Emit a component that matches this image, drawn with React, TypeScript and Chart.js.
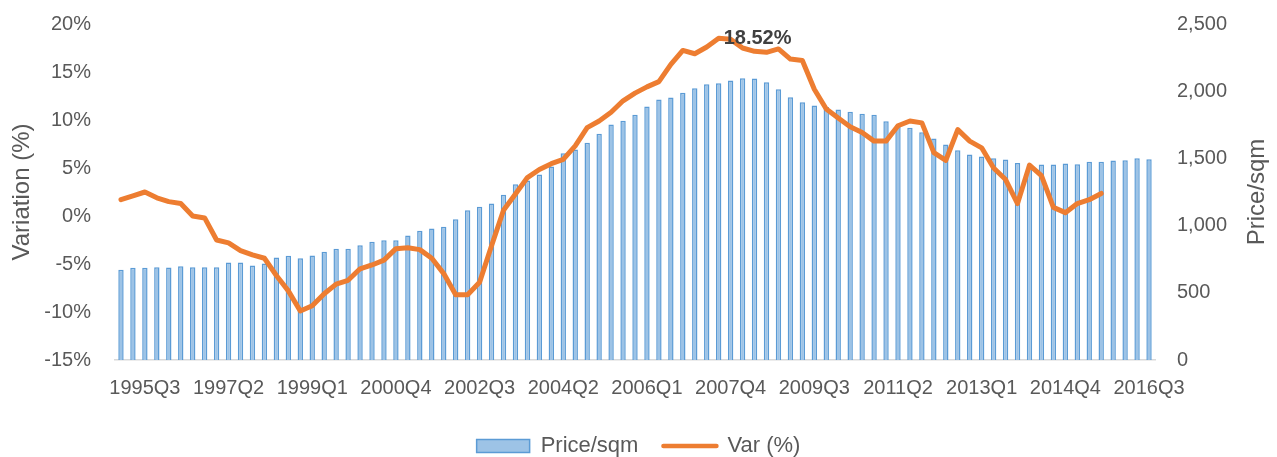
import React, { useEffect, useRef } from 'react';
import { Chart, registerables } from 'chart.js';

Chart.register(...registerables);

const CATEGORIES = [
  '1995Q1', '1995Q2', '1995Q3', '1995Q4', '1996Q1', '1996Q2', '1996Q3', '1996Q4',
  '1997Q1', '1997Q2', '1997Q3', '1997Q4', '1998Q1', '1998Q2', '1998Q3', '1998Q4',
  '1999Q1', '1999Q2', '1999Q3', '1999Q4', '2000Q1', '2000Q2', '2000Q3', '2000Q4',
  '2001Q1', '2001Q2', '2001Q3', '2001Q4', '2002Q1', '2002Q2', '2002Q3', '2002Q4',
  '2003Q1', '2003Q2', '2003Q3', '2003Q4', '2004Q1', '2004Q2', '2004Q3', '2004Q4',
  '2005Q1', '2005Q2', '2005Q3', '2005Q4', '2006Q1', '2006Q2', '2006Q3', '2006Q4',
  '2007Q1', '2007Q2', '2007Q3', '2007Q4', '2008Q1', '2008Q2', '2008Q3', '2008Q4',
  '2009Q1', '2009Q2', '2009Q3', '2009Q4', '2010Q1', '2010Q2', '2010Q3', '2010Q4',
  '2011Q1', '2011Q2', '2011Q3', '2011Q4', '2012Q1', '2012Q2', '2012Q3', '2012Q4',
  '2013Q1', '2013Q2', '2013Q3', '2013Q4', '2014Q1', '2014Q2', '2014Q3', '2014Q4',
  '2015Q1', '2015Q2', '2015Q3', '2015Q4', '2016Q1', '2016Q2', '2016Q3',
];

const PRICE_SQM = [
  671, 686, 686, 691, 689, 698, 691, 691, 691, 725,
  725, 703, 718, 763, 775, 757, 777, 805, 827, 827,
  854, 879, 891, 891, 926, 961, 978, 991, 1048, 1115,
  1140, 1164, 1229, 1308, 1336, 1380, 1440, 1539, 1566, 1616,
  1683, 1752, 1780, 1824, 1886, 1938, 1953, 1988, 2022, 2052,
  2060, 2080, 2097, 2094, 2067, 2015, 1955, 1918, 1894, 1883,
  1864, 1848, 1832, 1824, 1777, 1750, 1728, 1695, 1648, 1603,
  1561, 1529, 1514, 1502, 1492, 1465, 1457, 1455, 1455, 1462,
  1457, 1475, 1475, 1484, 1487, 1502, 1494,
];

const VAR_PCT = [
  1.7, 2.1, 2.5, 1.9, 1.5, 1.3, 0.0, -0.2, -2.5, -2.8,
  -3.6, -4.05, -4.4, -6.2, -7.8, -9.9, -9.35, -8.1, -7.1, -6.7,
  -5.5, -5.1, -4.6, -3.4, -3.3, -3.5, -4.4, -6.0, -8.2, -8.2,
  -6.9, -3.1, 0.6, 2.3, 4.0, 4.85, 5.45, 5.9, 7.3, 9.2,
  9.9, 10.8, 12.0, 12.8, 13.45, 14.0, 15.8, 17.25, 16.9, 17.6,
  18.52, 18.4, 17.5, 17.15, 17.05, 17.4, 16.35, 16.2, 13.2, 11.15,
  10.2, 9.3, 8.7, 7.8, 7.8, 9.4, 9.9, 9.7, 6.6, 5.8,
  9.0, 7.8, 7.1, 5.0, 3.8, 1.3, 5.3, 4.2, 0.9, 0.35,
  1.3, 1.7, 2.35, null, null, null, null,
];

const X_TICK_LABELS = [
  '1995Q3', '1997Q2', '1999Q1', '2000Q4', '2002Q3', '2004Q2', '2006Q1',
  '2007Q4', '2009Q3', '2011Q2', '2013Q1', '2014Q4', '2016Q3',
];

const PEAK_LABEL = '18.52%';
const LEFT_TITLE = 'Variation (%)';
const RIGHT_TITLE = 'Price/sqm';

const FONT = '"Liberation Sans", Arial, sans-serif';
const TEXT_COLOR = '#595959';

const extrasPlugin = {
  id: 'extras',
  afterDatasetsDraw(chart: any) {
    const ctx = chart.ctx;
    // peak data label
    const dsIndex = 1;
    const data = chart.data.datasets[dsIndex].data as (number | null)[];
    let idx = 0;
    for (let i = 0; i < data.length; i++) {
      const v = data[i];
      if (v !== null && (data[idx] === null || v > (data[idx] as number))) idx = i;
    }
    const pt = chart.getDatasetMeta(dsIndex).data[idx];
    if (pt) {
      ctx.save();
      ctx.font = `bold 20px ${FONT}`;
      ctx.fillStyle = '#404040';
      ctx.textAlign = 'left';
      ctx.textBaseline = 'middle';
      ctx.fillText(PEAK_LABEL, pt.x + 5, pt.y);
      ctx.restore();
    }
    // right axis title, rotated bottom-to-top
    const ys = chart.scales.y1;
    const ca = chart.chartArea;
    ctx.save();
    ctx.font = `24px ${FONT}`;
    ctx.fillStyle = TEXT_COLOR;
    ctx.textAlign = 'center';
    ctx.textBaseline = 'middle';
    ctx.translate(ys.right - 20, (ca.top + ca.bottom) / 2);
    ctx.rotate(-Math.PI / 2);
    ctx.fillText(RIGHT_TITLE, 0, 0);
    ctx.restore();
  },
};

export default function App() {
  const canvasRef = useRef<HTMLCanvasElement | null>(null);

  useEffect(() => {
    const canvas = canvasRef.current;
    if (!canvas) return;
    const chart = new Chart(canvas, {
      type: 'bar',
      data: {
        labels: CATEGORIES,
        datasets: [
          {
            type: 'bar',
            label: 'Price/sqm',
            data: PRICE_SQM,
            yAxisID: 'y1',
            backgroundColor: '#9DC3E6',
            borderColor: '#5B9BD5',
            borderWidth: 1.5,
            categoryPercentage: 1,
            barPercentage: 0.45,
            order: 1,
          } as any,
          {
            type: 'line',
            label: 'Var (%)',
            data: VAR_PCT,
            yAxisID: 'y',
            borderColor: '#ED7D31',
            backgroundColor: '#ED7D31',
            borderWidth: 5,
            pointRadius: 0,
            pointHoverRadius: 0,
            tension: 0,
            borderJoinStyle: 'round',
            borderCapStyle: 'round',
            spanGaps: false,
            order: 0,
          } as any,
        ],
      },
      options: {
        responsive: false,
        animation: false,
        layout: { padding: { top: 24, bottom: -10, left: 0, right: 0 } },
        plugins: {
          tooltip: { enabled: false },
          legend: {
            position: 'bottom',
            labels: {
              usePointStyle: true,
              pointStyleWidth: 53,
              boxHeight: 13,
              padding: 25,
              color: TEXT_COLOR,
              font: { family: FONT, size: 22 },
              sort: (a: any, b: any) => a.datasetIndex - b.datasetIndex,
              generateLabels: (ch: any) => {
                const items = Chart.defaults.plugins.legend.labels.generateLabels(ch);
                return items.map((it: any) => {
                  if (it.datasetIndex === 0) {
                    return { ...it, pointStyle: 'rect', fillStyle: '#9DC3E6', strokeStyle: '#5B9BD5', lineWidth: 1.5 };
                  }
                  return { ...it, pointStyle: 'line', strokeStyle: '#ED7D31', lineWidth: 4.5, lineCap: 'round' };
                });
              },
            },
          },
        },
        scales: {
          x: {
            type: 'category',
            offset: true,
            grid: { display: false, drawTicks: false },
            border: { display: true, color: '#D9D9D9', width: 1.5 },
            ticks: {
              autoSkip: false,
              maxRotation: 0,
              minRotation: 0,
              padding: 16,
              color: TEXT_COLOR,
              font: { family: FONT, size: 20 },
              callback: (_v: any, i: number) => {
                const l = CATEGORIES[i];
                return X_TICK_LABELS.includes(l) ? l : '';
              },
            },
            afterFit: (s: any) => {
              s.height = 50;
            },
          },
          y: {
            type: 'linear',
            position: 'left',
            min: -15,
            max: 20,
            grid: { display: false, drawTicks: false },
            border: { display: false },
            ticks: {
              stepSize: 5,
              padding: 24,
              color: TEXT_COLOR,
              font: { family: FONT, size: 20 },
              callback: (v: any) => `${v}%`,
            },
            title: {
              display: true,
              text: LEFT_TITLE,
              color: TEXT_COLOR,
              font: { family: FONT, size: 24 },
              padding: { top: 8, bottom: 0 },
            },
            afterFit: (s: any) => {
              s.width = 115;
              s.paddingTop = 12;
              s.paddingBottom = 12;
            },
          },
          y1: {
            type: 'linear',
            position: 'right',
            min: 0,
            max: 2500,
            grid: { display: false, drawTicks: false },
            border: { display: false },
            ticks: {
              stepSize: 500,
              padding: 22,
              color: TEXT_COLOR,
              font: { family: FONT, size: 20 },
              callback: (v: any) => Number(v).toLocaleString('en-US'),
            },
            title: { display: false },
            afterFit: (s: any) => {
              s.width = 122;
              s.paddingTop = 12;
              s.paddingBottom = 12;
            },
          },
        },
      } as any,
      plugins: [extrasPlugin],
    });
    return () => chart.destroy();
  }, []);

  return (
    <div style={{ position: 'fixed', left: 0, top: 0, width: 1277, height: 457, background: '#ffffff' }}>
      <canvas ref={canvasRef} width={1277} height={457} style={{ display: 'block' }} />
    </div>
  );
}
